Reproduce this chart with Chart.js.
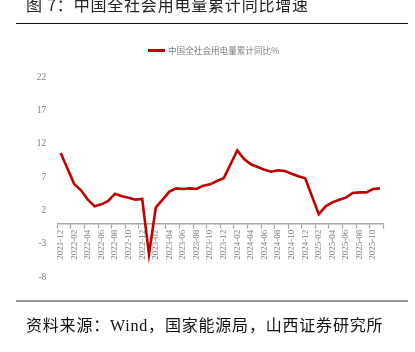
<!DOCTYPE html>
<html>
<head>
<meta charset="utf-8">
<script src="https://cdn.jsdelivr.net/npm/chart.js@4.4.0/dist/chart.umd.min.js"></script>
<style>
    html, body { margin: 0; padding: 0; background: #fff; }
    body { width: 415px; height: 352px; position: relative; overflow: hidden; }
    #traffic-wrap { position: absolute; left: 0; top: 0; width: 415px; height: 352px; }
    .title {
        position: absolute; left: 26px; top: -8px; line-height: 17px;
        font: 16px "Noto Sans CJK SC", sans-serif; letter-spacing: 0.8px; color: #222;
        white-space: nowrap;
    }
    .rule-top { position: absolute; left: 16px; top: 23px; width: 392px; height: 1px; background: #111; }
    .rule-bottom { position: absolute; left: 16px; top: 300px; width: 392px; height: 2px; background: #999; }
    .source {
        position: absolute; left: 26px; top: 312px; line-height: 20px;
        font: 16px "Liberation Serif", "Noto Sans CJK SC", serif; letter-spacing: 0.8px; color: #111;
        white-space: nowrap;
    }
    .legend { position: absolute; left: 148px; top: 44px; height: 12px; white-space: nowrap; }
    .legend .swatch { position: absolute; left: 0; top: 5px; width: 17px; height: 2.5px; background: #c00000; }
    .legend .label {
        position: absolute; left: 20px; top: 0; line-height: 12px;
        font: 8.6px "Noto Sans CJK SC", sans-serif; color: #7f7f7f;
    }
</style>
</head>
<body>
<div id="traffic-wrap"><canvas id="power-chart" width="415" height="352"></canvas></div>
<div class="title">图 7：中国全社会用电量累计同比增速</div>
<div class="rule-top"></div>
<div class="legend"><span class="swatch"></span><span class="label">中国全社会用电量累计同比%</span></div>
<div class="rule-bottom"></div>
<div class="source">资料来源：Wind，国家能源局，山西证券研究所</div>

<script>
// ---------------- Data ----------------
const months = [
    '2021-12',
    '2022-01', '2022-02', '2022-03', '2022-04', '2022-05', '2022-06', '2022-07', '2022-08', '2022-09', '2022-10', '2022-11', '2022-12',
    '2023-01', '2023-02', '2023-03', '2023-04', '2023-05', '2023-06', '2023-07', '2023-08', '2023-09', '2023-10', '2023-11', '2023-12',
    '2024-01', '2024-02', '2024-03', '2024-04', '2024-05', '2024-06', '2024-07', '2024-08', '2024-09', '2024-10', '2024-11', '2024-12',
    '2025-01', '2025-02', '2025-03', '2025-04', '2025-05', '2025-06', '2025-07', '2025-08', '2025-09', '2025-10', '2025-11'
];

// cumulative yoy growth, % (no January value in 2022, 2024, 2025)
const powerGrowth = [
    10.6,
    null, 5.9, 5.0, 3.6, 2.6, 2.9, 3.4, 4.5, 4.1, 3.9, 3.6, 3.7,
    -4.6, 2.4, 3.6, 4.8, 5.3, 5.2, 5.3, 5.2, 5.7, 5.9, 6.4, 6.8,
    null, 11.0, 9.7, 8.9, 8.5, 8.1, 7.8, 8.0, 7.9, 7.5, 7.1, 6.8,
    null, 1.4, 2.6, 3.2, 3.6, 3.9, 4.6, 4.7, 4.7, 5.2, 5.3
];

const seriesName = '中国全社会用电量累计同比%';
const yMin = -8;
const yMax = 22;
const yStep = 5;

const axisGray = '#a6a6a6';
const labelGray = '#808080';
const tickFont = { family: "'Liberation Serif', 'Times New Roman', serif", size: 9 };

// ---------------- Chart ----------------
var ctx = document.getElementById('power-chart');
var powerChart = new Chart(ctx, {
    type: 'line',
    data: {
        labels: months,
        datasets: [{
            label: seriesName,
            data: powerGrowth,
            borderColor: '#c00000',
            backgroundColor: '#c00000',
            borderWidth: 2.6,
            pointRadius: 0,
            tension: 0,
            spanGaps: true
        }]
    },
    options: {
        responsive: false,
        animation: false,
        devicePixelRatio: 1,
        layout: {
            padding: { top: 77, right: 31.7, bottom: 75, left: 0 }
        },
        plugins: {
            legend: { display: false },
            tooltip: { enabled: false }
        },
        scales: {
            x: {
                type: 'category',
                position: { y: 0 },
                offset: true,
                grid: {
                    offset: true,
                    drawOnChartArea: false,
                    drawTicks: true,
                    tickLength: 4,
                    tickWidth: 1.2,
                    tickColor: (c) => (c.index === undefined || c.index % 2 === 0) ? axisGray : 'rgba(0,0,0,0)'
                },
                border: { display: true, color: axisGray, width: 1.6 },
                ticks: {
                    autoSkip: false,
                    minRotation: 90,
                    maxRotation: 90,
                    padding: 2,
                    color: labelGray,
                    font: tickFont,
                    callback: function(val, i) {
                        return i % 2 === 0 ? months[i] : '';
                    }
                },
                afterFit: function(scale) {
                    scale.height = 0;
                    scale.paddingLeft = 0;
                    scale.paddingRight = 0;
                }
            },
            y: {
                min: yMin,
                max: yMax,
                grid: { display: false, drawTicks: false },
                border: { display: false },
                ticks: {
                    stepSize: yStep,
                    padding: 11,
                    color: labelGray,
                    font: { family: tickFont.family, size: 9.5 }
                },
                afterFit: function(scale) {
                    scale.width = 57.3;
                }
            }
        }
    }
});
</script>
</body>
</html>
